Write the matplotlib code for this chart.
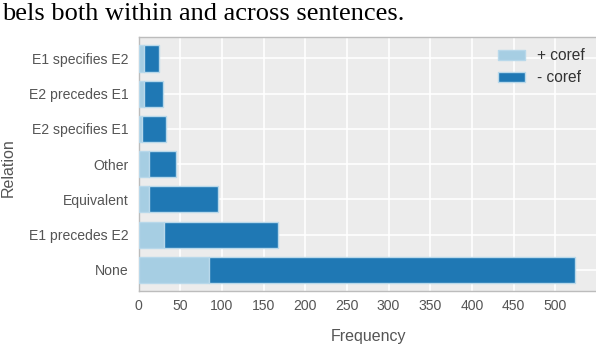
import matplotlib
matplotlib.use("Agg")
import matplotlib.pyplot as plt
import numpy as np

relations = ["None", "E1 precedes E2", "Equivalent", "Other",
             "E2 specifies E1", "E2 precedes E1", "E1 specifies E2"]
plus_coref = [84, 30, 13, 12, 4, 6, 7]
minus_coref = [440, 137, 82, 33, 29, 23, 17]
xticks = [0, 50, 100, 150, 200, 250, 300, 350, 400, 450, 500]

plt.rcParams['font.family'] = ['Liberation Sans', 'DejaVu Sans']

fig = plt.figure(figsize=(5.96, 3.44), dpi=100)
ax = fig.add_axes([138.5/596, 1 - 291/344, (596 - 138.5)/596, (291 - 37)/344])
ax.set_facecolor('#ececec')

y = np.arange(len(relations))
light = '#a6cee3'
dark = '#1f78b4'
ax.barh(y, plus_coref, height=0.74, color=light, edgecolor='#b8d8ea',
        linewidth=1.0, label='+ coref', zorder=3)
ax.barh(y, minus_coref, left=plus_coref, height=0.74, color=dark,
        edgecolor='#b8d8ea', linewidth=1.0, label='- coref', zorder=3)

ax.set_xlim(0, 549)
ax.set_ylim(-0.6, 6.61)
ax.set_xticks(xticks)
ax.set_yticks(y)
ax.set_yticklabels(relations)
ax.grid(True, color='white', linewidth=1.2, zorder=0)
ax.set_axisbelow(True)
ax.tick_params(axis='both', length=0, labelsize=10.1, labelcolor='#555555')
ax.tick_params(axis='y', pad=7)
ax.tick_params(axis='x', pad=6)
for s in ax.spines.values():
    s.set_color('#bcbcbc')
    s.set_linewidth(1.0)
ax.spines['right'].set_visible(False)

fig.text(369/596, 1 - 336/344, 'Frequency', fontsize=11.5, color='#555555',
         ha='center', va='center')
fig.text(8/596, 1 - 168/344, 'Relation', fontsize=11.5, color='#555555',
         ha='center', va='center', rotation=90)

leg = ax.legend(loc='upper right', frameon=False, fontsize=11.2,
                handlelength=1.75, handleheight=0.6, labelspacing=0.45,
                handletextpad=0.75, bbox_to_anchor=(1.005, 1.01))
for t in leg.get_texts():
    t.set_color('#333333')

fig.text(0.004, 1 - 20/344, 'bels both within and across sentences.',
         fontsize=19, family=['Liberation Serif', 'DejaVu Serif'],
         va='baseline', ha='left', color='black')

fig.savefig('out.png', dpi=100)
